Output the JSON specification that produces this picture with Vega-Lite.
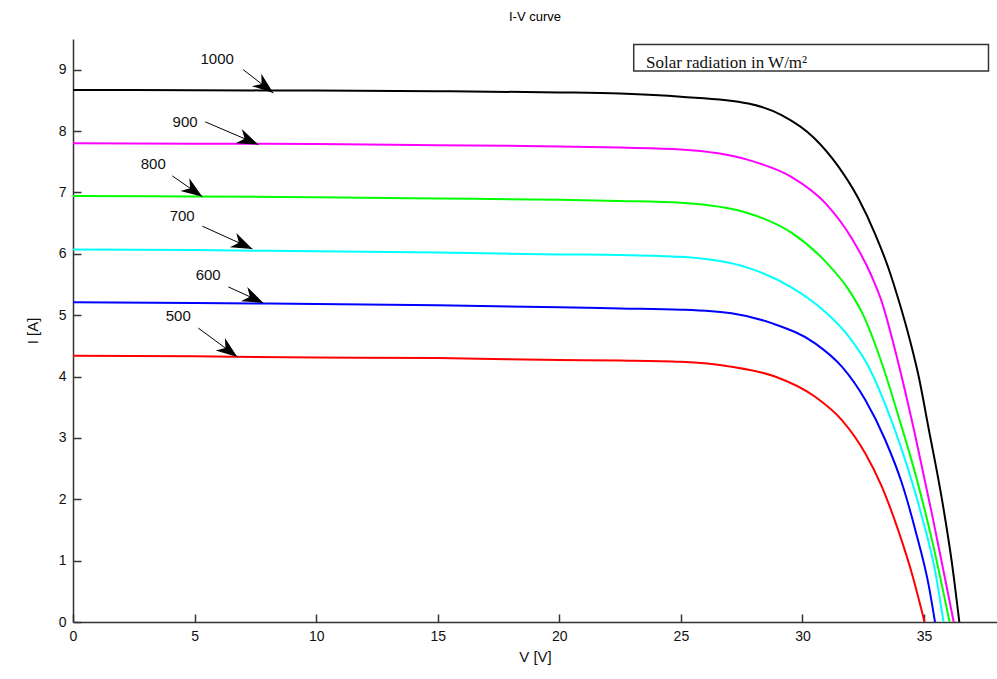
{
  "$schema": "https://vega.github.io/schema/vega-lite/v6.json",
  "width": 924,
  "height": 583,
  "autosize": {"type": "none"},
  "padding": {"left": 73, "top": 39, "right": 0, "bottom": 57},
  "background": "white",
  "config": {"view": {"stroke": null}, "font": "Liberation Sans"},
  "title": {"text": "I-V curve", "fontSize": 13, "fontWeight": "normal", "font": "Liberation Sans", "offset": 15, "color": "#000"},
  "datasets": {
    "curves": [
      {"series": "1000", "V": 0, "I": 8.67}, {"series": "1000", "V": 5, "I": 8.665}, {"series": "1000", "V": 10, "I": 8.66}, {"series": "1000", "V": 15, "I": 8.65}, {"series": "1000", "V": 20, "I": 8.63}, {"series": "1000", "V": 22.5, "I": 8.61}, {"series": "1000", "V": 25, "I": 8.56}, {"series": "1000", "V": 27.77, "I": 8.45}, {"series": "1000", "V": 29.14, "I": 8.26}, {"series": "1000", "V": 30.5, "I": 7.88}, {"series": "1000", "V": 31.48, "I": 7.42}, {"series": "1000", "V": 32.3, "I": 6.9}, {"series": "1000", "V": 32.98, "I": 6.33}, {"series": "1000", "V": 33.54, "I": 5.76}, {"series": "1000", "V": 33.95, "I": 5.25}, {"series": "1000", "V": 34.4, "I": 4.62}, {"series": "1000", "V": 34.78, "I": 4.0}, {"series": "1000", "V": 35.19, "I": 3.15}, {"series": "1000", "V": 35.74, "I": 1.99}, {"series": "1000", "V": 36.15, "I": 0.95}, {"series": "1000", "V": 36.45, "I": 0},
      {"series": "900", "V": 0, "I": 7.8}, {"series": "900", "V": 5, "I": 7.795}, {"series": "900", "V": 10, "I": 7.79}, {"series": "900", "V": 15, "I": 7.77}, {"series": "900", "V": 20, "I": 7.75}, {"series": "900", "V": 22.5, "I": 7.73}, {"series": "900", "V": 25, "I": 7.7}, {"series": "900", "V": 27.77, "I": 7.53}, {"series": "900", "V": 29.56, "I": 7.25}, {"series": "900", "V": 30.93, "I": 6.83}, {"series": "900", "V": 32.03, "I": 6.25}, {"series": "900", "V": 32.85, "I": 5.63}, {"series": "900", "V": 33.26, "I": 5.22}, {"series": "900", "V": 33.7, "I": 4.6}, {"series": "900", "V": 34.09, "I": 3.98}, {"series": "900", "V": 34.63, "I": 3.05}, {"series": "900", "V": 35.33, "I": 1.75}, {"series": "900", "V": 35.74, "I": 0.95}, {"series": "900", "V": 36.22, "I": 0},
      {"series": "800", "V": 0, "I": 6.94}, {"series": "800", "V": 5, "I": 6.935}, {"series": "800", "V": 10, "I": 6.92}, {"series": "800", "V": 15, "I": 6.9}, {"series": "800", "V": 20, "I": 6.88}, {"series": "800", "V": 22.5, "I": 6.86}, {"series": "800", "V": 25, "I": 6.83}, {"series": "800", "V": 27.77, "I": 6.66}, {"series": "800", "V": 29.56, "I": 6.34}, {"series": "800", "V": 30.93, "I": 5.88}, {"series": "800", "V": 31.89, "I": 5.42}, {"series": "800", "V": 32.5, "I": 5.0}, {"series": "800", "V": 33.26, "I": 4.22}, {"series": "800", "V": 33.95, "I": 3.35}, {"series": "800", "V": 34.63, "I": 2.43}, {"series": "800", "V": 35.33, "I": 1.33}, {"series": "800", "V": 36.05, "I": 0},
      {"series": "700", "V": 0, "I": 6.07}, {"series": "700", "V": 5, "I": 6.06}, {"series": "700", "V": 10, "I": 6.04}, {"series": "700", "V": 15, "I": 6.02}, {"series": "700", "V": 20, "I": 5.99}, {"series": "700", "V": 22.5, "I": 5.98}, {"series": "700", "V": 25, "I": 5.95}, {"series": "700", "V": 27.77, "I": 5.77}, {"series": "700", "V": 29.56, "I": 5.45}, {"series": "700", "V": 30.86, "I": 5.08}, {"series": "700", "V": 31.89, "I": 4.66}, {"series": "700", "V": 32.72, "I": 4.16}, {"series": "700", "V": 33.4, "I": 3.55}, {"series": "700", "V": 34.09, "I": 2.8}, {"series": "700", "V": 34.91, "I": 1.72}, {"series": "700", "V": 35.46, "I": 0.82}, {"series": "700", "V": 35.8, "I": 0},
      {"series": "600", "V": 0, "I": 5.21}, {"series": "600", "V": 5, "I": 5.2}, {"series": "600", "V": 10, "I": 5.18}, {"series": "600", "V": 15, "I": 5.16}, {"series": "600", "V": 20, "I": 5.13}, {"series": "600", "V": 22.5, "I": 5.11}, {"series": "600", "V": 25, "I": 5.09}, {"series": "600", "V": 27.08, "I": 5.03}, {"series": "600", "V": 28.73, "I": 4.87}, {"series": "600", "V": 30.52, "I": 4.54}, {"series": "600", "V": 31.62, "I": 4.16}, {"series": "600", "V": 32.58, "I": 3.62}, {"series": "600", "V": 33.4, "I": 2.97}, {"series": "600", "V": 34.09, "I": 2.26}, {"series": "600", "V": 34.64, "I": 1.5}, {"series": "600", "V": 35.19, "I": 0.6}, {"series": "600", "V": 35.45, "I": 0},
      {"series": "500", "V": 0, "I": 4.34}, {"series": "500", "V": 5, "I": 4.33}, {"series": "500", "V": 10, "I": 4.31}, {"series": "500", "V": 15, "I": 4.3}, {"series": "500", "V": 20, "I": 4.27}, {"series": "500", "V": 22.5, "I": 4.26}, {"series": "500", "V": 25, "I": 4.24}, {"series": "500", "V": 27.08, "I": 4.16}, {"series": "500", "V": 28.87, "I": 4.0}, {"series": "500", "V": 30.52, "I": 3.67}, {"series": "500", "V": 31.62, "I": 3.29}, {"series": "500", "V": 32.58, "I": 2.75}, {"series": "500", "V": 33.26, "I": 2.21}, {"series": "500", "V": 33.95, "I": 1.48}, {"series": "500", "V": 34.5, "I": 0.79}, {"series": "500", "V": 35.02, "I": 0}
    ],
    "arrows": [
      {"label": "1000", "lx": 5.93, "ly": 9.18, "sx": 7.0, "sy": 9.0, "tx": 8.24, "ty": 8.62},
      {"label": "900", "lx": 4.61, "ly": 8.15, "sx": 5.44, "sy": 8.15, "tx": 7.62, "ty": 7.78},
      {"label": "800", "lx": 3.3, "ly": 7.47, "sx": 4.08, "sy": 7.27, "tx": 5.32, "ty": 6.93},
      {"label": "700", "lx": 4.49, "ly": 6.62, "sx": 5.32, "sy": 6.45, "tx": 7.38, "ty": 6.08},
      {"label": "600", "lx": 5.56, "ly": 5.66, "sx": 6.39, "sy": 5.46, "tx": 7.83, "ty": 5.2},
      {"label": "500", "lx": 4.33, "ly": 4.99, "sx": 5.15, "sy": 4.79, "tx": 6.76, "ty": 4.32}
    ],
    "box": [
      {"x1": 23.06, "x2": 37.65, "y1": 9.41, "y2": 8.98, "text": "Solar radiation in W/m²", "tx": 23.57, "ty": 9.03}
    ]
  },
  "layer": [
    {
      "data": {"name": "curves"},
      "mark": {"type": "line", "strokeWidth": 2, "interpolate": "monotone"},
      "encoding": {
        "x": {"field": "V", "type": "quantitative", "title": "V [V]",
          "scale": {"domain": [0, 38], "nice": false, "zero": false},
          "axis": {"values": [0, 5, 10, 15, 20, 25, 30, 35], "format": "d", "grid": false, "tickSize": -8, "labelPadding": 15, "domainColor": "#333", "domainWidth": 1.5, "tickColor": "#333", "tickWidth": 1.5, "labelFontSize": 14, "labelColor": "#111", "labelFlush": false, "titleFontSize": 15, "titleFontWeight": "normal", "titleColor": "#111", "titlePadding": 6}},
        "y": {"field": "I", "type": "quantitative", "title": "I [A]",
          "scale": {"domain": [0, 9.5], "nice": false},
          "axis": {"values": [0, 1, 2, 3, 4, 5, 6, 7, 8, 9], "format": "d", "grid": false, "tickSize": -8, "labelPadding": 15, "domainColor": "#333", "domainWidth": 1.5, "tickColor": "#333", "tickWidth": 1.5, "labelFontSize": 14, "labelColor": "#111", "labelFlush": false, "titleFontSize": 15, "titleFontWeight": "normal", "titleColor": "#111", "titlePadding": 18}},
        "color": {"field": "series", "type": "nominal", "legend": null,
          "scale": {"domain": ["1000", "900", "800", "700", "600", "500"], "range": ["#000000", "#ff00ff", "#00ff00", "#00ffff", "#0000ff", "#ff0000"]}}
      }
    },
    {
      "data": {"name": "arrows"},
      "mark": {"type": "rule", "color": "#000", "strokeWidth": 1},
      "encoding": {
        "x": {"field": "sx", "type": "quantitative", "title": "V [V]"},
        "y": {"field": "sy", "type": "quantitative", "title": "I [A]"},
        "x2": {"field": "tx"},
        "y2": {"field": "ty"}
      }
    },
    {
      "data": {"name": "arrows"},
      "transform": [{"calculate": "atan2((datum.tx - datum.sx) * 24.3, (datum.ty - datum.sy) * 61.37) * 180 / PI", "as": "ang"}],
      "mark": {"type": "point", "filled": true, "color": "#000", "opacity": 1, "size": 800, "shape": "M0,0L-0.55,1.5L0,1.05L0.55,1.5Z"},
      "encoding": {
        "x": {"field": "tx", "type": "quantitative", "title": "V [V]"},
        "y": {"field": "ty", "type": "quantitative", "title": "I [A]"},
        "angle": {"field": "ang", "type": "quantitative", "scale": null}
      }
    },
    {
      "data": {"name": "arrows"},
      "mark": {"type": "text", "fontSize": 15, "color": "#111", "align": "center", "baseline": "middle", "font": "Liberation Sans"},
      "encoding": {
        "x": {"field": "lx", "type": "quantitative", "title": "V [V]"},
        "y": {"field": "ly", "type": "quantitative", "title": "I [A]"},
        "text": {"field": "label"}
      }
    },
    {
      "data": {"name": "box"},
      "mark": {"type": "rect", "fill": "white", "stroke": "#333", "strokeWidth": 1.5},
      "encoding": {
        "x": {"field": "x1", "type": "quantitative", "title": "V [V]"},
        "x2": {"field": "x2"},
        "y": {"field": "y1", "type": "quantitative", "title": "I [A]"},
        "y2": {"field": "y2"}
      }
    },
    {
      "data": {"name": "box"},
      "mark": {"type": "text", "fontSize": 17, "color": "#111", "align": "left", "baseline": "alphabetic", "font": "Liberation Serif"},
      "encoding": {
        "x": {"field": "tx", "type": "quantitative", "title": "V [V]"},
        "y": {"field": "ty", "type": "quantitative", "title": "I [A]"},
        "text": {"field": "text"}
      }
    }
  ]
}
